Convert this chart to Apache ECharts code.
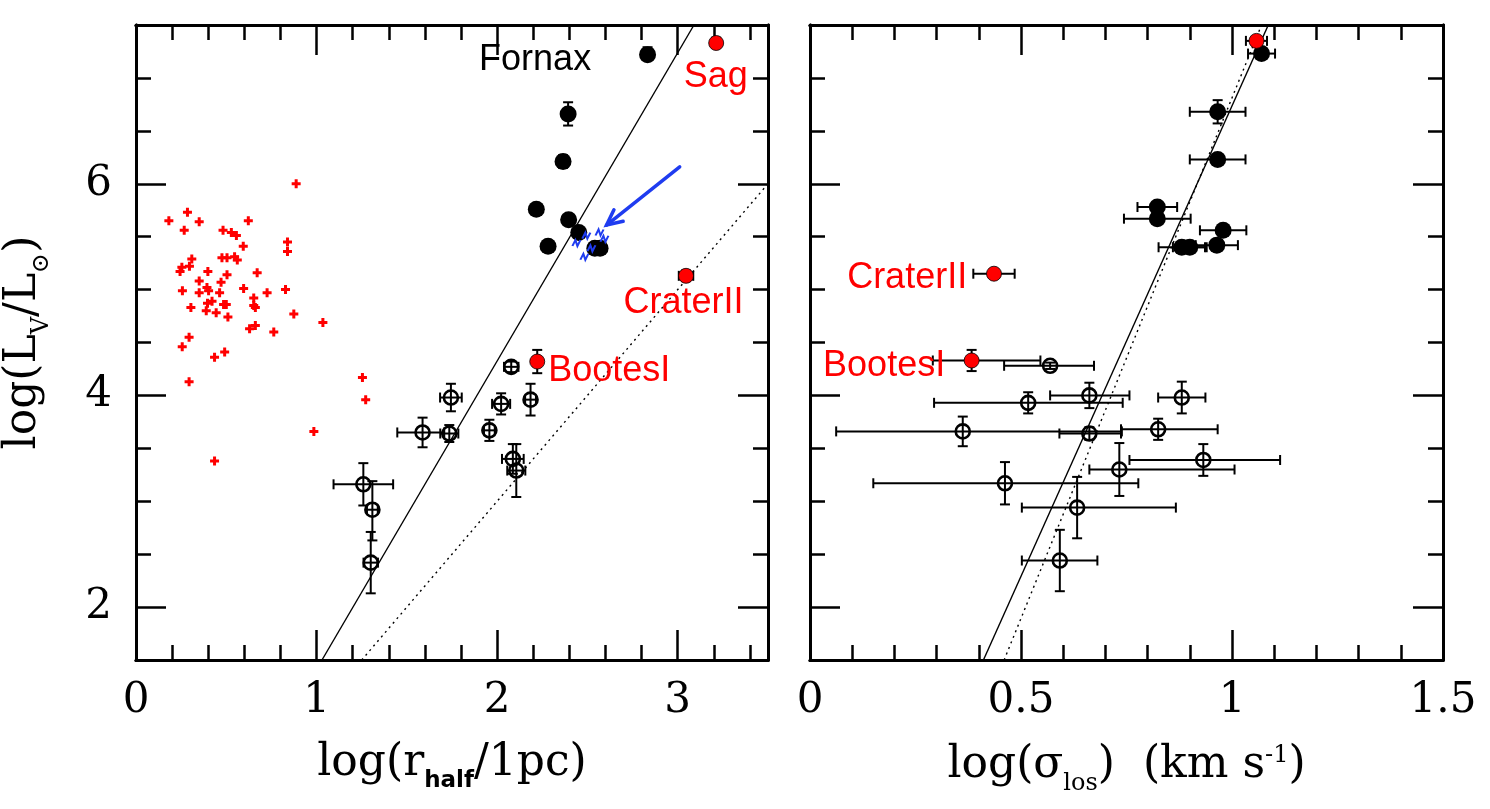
<!DOCTYPE html>
<html>
<head>
<meta charset="utf-8">
<script src="https://cdn.jsdelivr.net/npm/echarts@6/dist/echarts.min.js"></script>
<style>
  html, body { margin: 0; padding: 0; background: #fff; }
  #chart { width: 1490px; height: 809px; }
</style>
</head>
<body>
<div id="chart"></div>
<script>
// ---------- data ----------
// axis ranges and ticks
const yRange = [1.5, 7.5];
const yMajor = [2, 4, 6];
const yMinor = [2.5, 3, 3.5, 4.5, 5, 5.5, 6.5, 7];
const leftXRange = [0, 3.5];
const leftXMajor = [0, 1, 2, 3];
const leftXMinor = [0.2, 0.4, 0.6, 0.8, 1.2, 1.4, 1.6, 1.8, 2.2, 2.4, 2.6, 2.8, 3.2, 3.4];
const rightXRange = [0, 1.5];
const rightXMajor = [0, 0.5, 1, 1.5];
const rightXMinor = [0.1, 0.2, 0.3, 0.4, 0.6, 0.7, 0.8, 0.9, 1.1, 1.2, 1.3, 1.4];

// left panel: red crosses (globular clusters) [log r, log L]
const clusters = [
  [0.887, 6.00], [0.285, 5.73], [0.182, 5.65], [0.350, 5.64], [0.622, 5.65],
  [0.267, 5.56], [0.482, 5.56], [0.528, 5.54], [0.556, 5.51], [0.594, 5.41],
  [0.839, 5.45], [0.839, 5.36], [0.309, 5.29], [0.476, 5.30], [0.504, 5.30],
  [0.546, 5.31], [0.561, 5.28], [0.254, 5.21], [0.244, 5.17], [0.296, 5.22],
  [0.398, 5.17], [0.671, 5.16], [0.504, 5.14], [0.350, 5.08], [0.471, 5.07],
  [0.257, 4.99], [0.393, 5.02], [0.402, 4.99], [0.350, 4.97], [0.463, 4.97],
  [0.596, 5.01], [0.726, 4.97], [0.828, 5.00], [0.652, 4.92], [0.652, 4.85],
  [0.661, 4.83], [0.421, 4.89], [0.396, 4.87], [0.389, 4.80], [0.485, 4.86],
  [0.500, 4.86], [0.304, 4.83], [0.444, 4.78], [0.509, 4.74], [0.874, 4.77],
  [1.035, 4.69], [0.763, 4.60], [0.629, 4.63], [0.661, 4.66], [0.294, 4.55],
  [0.256, 4.46], [0.435, 4.36], [0.491, 4.41], [0.294, 4.13], [1.254, 4.17],
  [1.272, 3.96], [0.985, 3.66], [0.435, 3.38]
];

// points with errors: [x, y, xErrLow, xErrHigh, yErrLow, yErrHigh]
const leftClassical = [
  [2.833, 7.22, 0.02, 0.02, 0.03, 0.07], [2.393, 6.66, 0.02, 0.02, 0.11, 0.11],
  [2.365, 6.21, 0.02, 0.02, 0.06, 0.06], [2.217, 5.76, 0, 0, 0, 0],
  [2.396, 5.66, 0, 0, 0, 0], [2.452, 5.54, 0, 0, 0, 0], [2.282, 5.41, 0, 0, 0, 0],
  [2.541, 5.39, 0, 0, 0, 0], [2.570, 5.39, 0, 0, 0, 0]
];
const leftFaint = [
  [1.744, 3.98, 0.06, 0.06, 0.13, 0.13], [1.587, 3.65, 0.14, 0.12, 0.14, 0.14],
  [1.735, 3.64, 0.05, 0.05, 0.08, 0.08], [2.078, 4.27, 0.04, 0.04, 0.05, 0.05],
  [2.022, 3.92, 0.05, 0.05, 0.10, 0.10], [2.185, 3.96, 0.03, 0.03, 0.15, 0.15],
  [1.957, 3.67, 0.03, 0.03, 0.10, 0.10], [2.087, 3.40, 0.06, 0.06, 0.14, 0.14],
  [2.106, 3.29, 0.05, 0.05, 0.25, 0.25], [1.259, 3.16, 0.165, 0.165, 0.20, 0.20],
  [1.309, 2.92, 0.03, 0.03, 0.29, 0.27], [1.300, 2.42, 0.04, 0.04, 0.29, 0.29]
];
const leftRed = [
  [3.213, 7.33, 0.02, 0.02, 0.03, 0.05], [3.046, 5.13, 0.04, 0.04, 0.05, 0.05],
  [2.222, 4.32, 0.02, 0.02, 0.11, 0.11]
];
const leftBlue = [
  [2.494, 5.51], [2.567, 5.54], [2.439, 5.44], [2.522, 5.39], [2.483, 5.31], [2.594, 5.48]
];
const leftArrow = [[3.011, 6.16, 2.606, 5.61]];
const leftSolid = [[1.03, 1.5], [3.09, 7.5]];
const leftDotted = [[1.25, 1.5], [3.5, 6.0]];
const leftNames = [['Fornax', 1.90, 7.17], ['Sag', 3.033, 7.01], ['CraterII', 2.70, 4.87], ['BootesI', 2.283, 4.23]];

// right panel: [log sigma, log L, ...errors]
const rightClassical = [
  [1.070, 7.23, 0.032, 0.032, 0.02, 0.02], [0.966, 6.68, 0.066, 0.066, 0.11, 0.11],
  [0.966, 6.23, 0.066, 0.066, 0.03, 0.03], [0.823, 5.78, 0.047, 0.047, 0, 0],
  [0.823, 5.67, 0.079, 0.079, 0, 0], [0.979, 5.56, 0.055, 0.055, 0, 0],
  [0.964, 5.42, 0.050, 0.050, 0, 0], [0.881, 5.40, 0.055, 0.055, 0, 0],
  [0.900, 5.40, 0.040, 0.040, 0, 0]
];
const rightFaint = [
  [0.569, 4.28, 0.109, 0.104, 0.03, 0.03], [0.662, 4.00, 0.093, 0.095, 0.12, 0.12],
  [0.881, 3.98, 0.056, 0.056, 0.15, 0.15], [0.517, 3.93, 0.223, 0.224, 0.10, 0.10],
  [0.362, 3.66, 0.300, 0.377, 0.14, 0.14], [0.662, 3.64, 0.071, 0.075, 0.06, 0.06],
  [0.825, 3.68, 0.088, 0.141, 0.10, 0.10], [0.932, 3.39, 0.175, 0.182, 0.15, 0.15],
  [0.733, 3.30, 0.071, 0.273, 0.25, 0.25], [0.462, 3.17, 0.312, 0.316, 0.20, 0.20],
  [0.633, 2.94, 0.131, 0.234, 0.29, 0.29], [0.592, 2.44, 0.090, 0.089, 0.29, 0.29]
];
const rightRed = [
  [1.058, 7.35, 0.025, 0.025, 0.03, 0.03], [0.436, 5.15, 0.049, 0.049, 0.04, 0.04],
  [0.383, 4.33, 0.092, 0.163, 0.10, 0.10]
];
const rightSolid = [[0.411, 1.5], [1.086, 7.5]];
const rightDotted = [[0.46, 1.5], [1.07, 7.5]];
const rightNames = [['CraterII', 0.088, 5.11], ['BootesI', 0.031, 4.28]];

// ---------- chart ----------
const RED = '#ff0000';
const BLUE = '#1f3cf0';
const serif = 'DejaVu Serif';

const chart = echarts.init(document.getElementById('chart'));

// one axis of a frame side: ticks only or ticks + labels
function axis(grid, pos, range, ticks, len, labels, extra) {
  return Object.assign({
    type: 'value', gridIndex: grid, position: pos,
    min: range[0], max: range[1],
    axisLine: { show: true, onZero: false, lineStyle: { color: '#000', width: 3 } },
    axisTick: { show: true, inside: true, length: len, customValues: ticks,
      lineStyle: { color: '#000', width: 2.5 } },
    axisLabel: labels ? {
      show: true, customValues: labels, color: '#000',
      fontFamily: serif, fontSize: 42, margin: pos === 'left' ? 24 : 20
    } : { show: false },
    splitLine: { show: false }
  }, extra || {});
}

const nameRich = {
  a: { fontFamily: serif, fontSize: 44, lineHeight: 50, verticalAlign: 'top', color: '#000' },
  b: { fontFamily: 'DejaVu Sans', fontWeight: 'bold', fontSize: 23, lineHeight: 24,
       padding: [28, 0, 0, 0], verticalAlign: 'top', color: '#000' },
  s: { fontFamily: serif, fontSize: 24, lineHeight: 24,
       padding: [28, 0, 0, 0], verticalAlign: 'top', color: '#000' },
  p: { fontFamily: serif, fontSize: 24, lineHeight: 24, verticalAlign: 'top', color: '#000' }
};

const xAxes = [
  axis(0, 'bottom', leftXRange, leftXMajor, 30, leftXMajor, {
    name: '{a|log(r}{b|half}{a|/1pc)}', nameLocation: 'middle', nameGap: 82,
    nameTextStyle: { rich: nameRich }
  }),
  axis(0, 'bottom', leftXRange, leftXMinor, 15),
  axis(0, 'top', leftXRange, leftXMajor, 30),
  axis(0, 'top', leftXRange, leftXMinor, 15),
  axis(1, 'bottom', rightXRange, rightXMajor, 30, rightXMajor, {
    name: '{a|log(σ}{s|los}{a|)  (km s}{p|-1}{a|)}', nameLocation: 'middle', nameGap: 84,
    nameTextStyle: { rich: nameRich }
  }),
  axis(1, 'bottom', rightXRange, rightXMinor, 15),
  axis(1, 'top', rightXRange, rightXMajor, 30),
  axis(1, 'top', rightXRange, rightXMinor, 15)
];
const yAxes = [
  axis(0, 'left', yRange, yMajor, 30, yMajor, {
    name: '{a|log(L}{s|V}{a|/L}{s|⊙}{a|)}', nameLocation: 'middle', nameGap: 84,
    nameTextStyle: { rich: nameRich }
  }),
  axis(0, 'left', yRange, yMinor, 15),
  axis(0, 'right', yRange, yMajor, 30),
  axis(0, 'right', yRange, yMinor, 15),
  axis(1, 'left', yRange, yMajor, 30),
  axis(1, 'left', yRange, yMinor, 15),
  axis(1, 'right', yRange, yMajor, 30),
  axis(1, 'right', yRange, yMinor, 15)
];

function errorBars(rows, ai) {
  return {
    type: 'custom', xAxisIndex: ai, yAxisIndex: ai, silent: true, z: 2,
    data: rows.map(d => [d[0], d[1], d[0] - d[2], d[0] + d[3], d[1] - d[4], d[1] + d[5]]),
    encode: { x: [0, 2, 3], y: [1, 4, 5] },
    renderItem(params, api) {
      const c = api.coord([api.value(0), api.value(1)]);
      const xl = api.coord([api.value(2), api.value(1)])[0];
      const xh = api.coord([api.value(3), api.value(1)])[0];
      const yl = api.coord([api.value(0), api.value(4)])[1];
      const yh = api.coord([api.value(0), api.value(5)])[1];
      const style = { stroke: '#000', lineWidth: 2, fill: null };
      const cap = 5;
      const seg = (x1, y1, x2, y2) => ({ type: 'line', shape: { x1, y1, x2, y2 }, style });
      const kids = [];
      if (xh - xl > 2) {
        kids.push(seg(xl, c[1], xh, c[1]), seg(xl, c[1] - cap, xl, c[1] + cap), seg(xh, c[1] - cap, xh, c[1] + cap));
      }
      if (yl - yh > 2) {
        kids.push(seg(c[0], yl, c[0], yh), seg(c[0] - cap, yl, c[0] + cap, yl), seg(c[0] - cap, yh, c[0] + cap, yh));
      }
      return { type: 'group', children: kids };
    }
  };
}

function pts(rows, ai, kind) {
  const base = { type: 'scatter', xAxisIndex: ai, yAxisIndex: ai, silent: true, z: 3,
    data: rows.map(d => [d[0], d[1]]) };
  if (kind === 'filled') {
    return Object.assign(base, { symbol: 'circle', symbolSize: 17,
      itemStyle: { color: '#000', opacity: 1 } });
  }
  if (kind === 'open') {
    return Object.assign(base, { symbol: 'circle', symbolSize: 14,
      itemStyle: { color: 'rgba(0,0,0,0)', borderColor: '#000', borderWidth: 2.6, opacity: 1 } });
  }
  return Object.assign(base, { symbol: 'circle', symbolSize: 15, z: 4,
    itemStyle: { color: RED, borderColor: '#000', borderWidth: 0.8, opacity: 1 } });
}

function fitLine(pair, ai, dotted) {
  return {
    type: 'line', xAxisIndex: ai, yAxisIndex: ai, silent: true, z: 1,
    data: pair, symbol: 'none',
    lineStyle: { color: '#000', width: 1.4, type: dotted ? [2, 4] : 'solid', opacity: 1 }
  };
}

function names(rows, ai) {
  return {
    type: 'scatter', xAxisIndex: ai, yAxisIndex: ai, silent: true, z: 5, symbolSize: 0,
    itemStyle: { opacity: 1 },
    data: rows.map(r => ({ name: r[0], value: [r[1], r[2]],
      label: { color: r[0] === 'Fornax' ? '#000' : RED } })),
    label: { show: true, formatter: '{b}', position: 'right', distance: 0, opacity: 1,
      fontFamily: 'Liberation Sans', fontSize: 36 }
  };
}

const series = [
  fitLine(leftSolid, 0, false),
  fitLine(leftDotted, 0, true),
  {
    type: 'scatter', xAxisIndex: 0, yAxisIndex: 0, silent: true, z: 3,
    data: clusters, symbol: 'path://M3,0H6V3H9V6H6V9H3V6H0V3H3Z', symbolSize: 9,
    itemStyle: { color: RED, opacity: 1 }
  },
  errorBars(leftClassical, 0), pts(leftClassical, 0, 'filled'),
  errorBars(leftFaint, 0), pts(leftFaint, 0, 'open'),
  errorBars(leftRed, 0), pts(leftRed, 0, 'red'),
  {
    type: 'scatter', xAxisIndex: 0, yAxisIndex: 0, silent: true, z: 4,
    data: leftBlue, symbol: 'path://M0,6L3,0L5,6L8,0', symbolSize: [8, 6],
    itemStyle: { color: 'rgba(0,0,0,0)', borderColor: BLUE, borderWidth: 1.8, opacity: 1 }
  },
  {
    type: 'custom', xAxisIndex: 0, yAxisIndex: 0, silent: true, z: 5,
    data: leftArrow, encode: { x: [0, 2], y: [1, 3] },
    renderItem(params, api) {
      const a = api.coord([api.value(0), api.value(1)]);
      const b = api.coord([api.value(2), api.value(3)]);
      const ang = Math.atan2(a[1] - b[1], a[0] - b[0]);
      const h = 17, spread = 0.45;
      const style = { stroke: BLUE, lineWidth: 3.5, fill: null, lineCap: 'round' };
      return { type: 'group', children: [
        { type: 'line', shape: { x1: a[0], y1: a[1], x2: b[0], y2: b[1] }, style },
        { type: 'polyline', shape: { points: [
          [b[0] + h * Math.cos(ang + spread), b[1] + h * Math.sin(ang + spread)],
          b,
          [b[0] + h * Math.cos(ang - spread), b[1] + h * Math.sin(ang - spread)]
        ] }, style }
      ] };
    }
  },
  names(leftNames, 0),

  fitLine(rightSolid, 4, false),
  fitLine(rightDotted, 4, true),
  errorBars(rightClassical, 4), pts(rightClassical, 4, 'filled'),
  errorBars(rightFaint, 4), pts(rightFaint, 4, 'open'),
  errorBars(rightRed, 4), pts(rightRed, 4, 'red'),
  names(rightNames, 4)
];

chart.setOption({
  animation: false,
  backgroundColor: '#fff',
  grid: [
    { left: 136, top: 25, width: 632, height: 635 },
    { left: 810, top: 25, width: 633, height: 635 }
  ],
  xAxis: xAxes,
  yAxis: yAxes,
  series
});
</script>
</body>
</html>
